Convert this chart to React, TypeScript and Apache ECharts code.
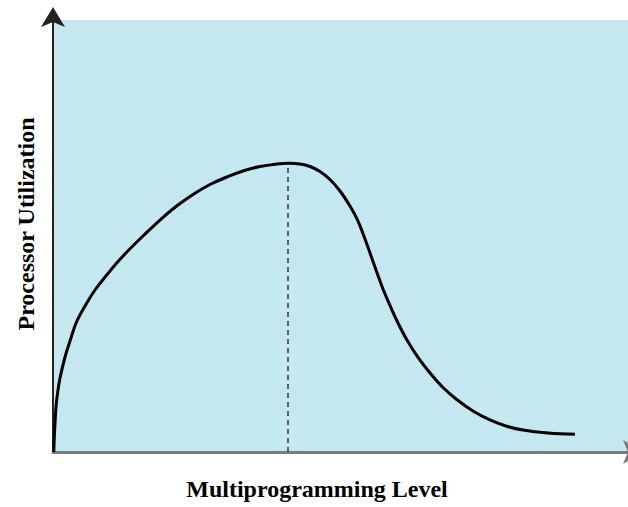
import React, { useEffect, useRef } from "react";
import * as echarts from "echarts";

// Multiprogramming level (relative units, 0-100)
const levels = [0.14, 0.24, 0.4, 0.57, 0.8, 1.22, 2.09, 2.96, 4.12, 5.57, 7.3, 9.34, 11.08, 13.1, 15.65, 18.61, 21.51, 24.35, 27.3, 30.26, 33.04, 36.0, 38.9, 40.87, 42.96, 44.7, 46.43, 48.17, 49.91, 51.65, 52.87, 53.97, 55.13, 56.3, 57.39, 58.61, 60.0, 61.51, 63.48, 65.57, 67.83, 70.21, 73.04, 76.0, 78.78, 81.74, 86.09, 90.78];
// Processor utilization (relative units, 0-100)
const utilization = [0.0, 3.7, 7.87, 11.11, 13.66, 17.13, 21.99, 25.69, 30.21, 33.8, 37.5, 40.97, 43.75, 46.64, 50.0, 53.7, 56.94, 59.61, 61.92, 63.66, 65.05, 66.09, 66.67, 66.85, 66.67, 66.09, 64.93, 63.08, 60.42, 56.94, 53.94, 50.35, 46.06, 41.67, 37.73, 33.91, 29.86, 26.04, 21.88, 18.29, 14.93, 12.15, 9.49, 7.41, 6.02, 5.09, 4.4, 4.1];
// Peak marker
const peakLevel = [40.87, 40.87];
const peakUtil = [0, 66.85];

const xTitle = "Multiprogramming Level";
const yTitle = "Processor Utilization";

export default function App() {
  const ref = useRef<HTMLDivElement>(null);
  useEffect(() => {
    document.body.style.margin = "0";
    if (!ref.current) return;
    const chart = echarts.init(ref.current, null, { renderer: "svg" });
    const font = 'bold 24px "Liberation Serif", "DejaVu Serif", serif';
    chart.setOption({
      animation: false,
      backgroundColor: "#ffffff",
      grid: {
        left: 53,
        right: 0,
        top: 20,
        bottom: 55,
        show: true,
        backgroundColor: "#C4E7F0",
        borderWidth: 0,
      },
      xAxis: {
        type: "value",
        min: 0,
        max: 100,
        axisLine: {
          show: true,
          symbol: ["none", "arrow"],
          symbolSize: [18, 20],
          symbolOffset: [0, 15],
          lineStyle: { color: "#7a7a7a", width: 3 },
        },
        axisTick: { show: false },
        axisLabel: { show: false },
        splitLine: { show: false },
      },
      yAxis: {
        type: "value",
        min: 0,
        max: 100,
        axisLine: {
          show: true,
          symbol: ["none", "arrow"],
          symbolSize: [18, 20],
          symbolOffset: [0, 13],
          lineStyle: { color: "#222222", width: 2 },
        },
        axisTick: { show: false },
        axisLabel: { show: false },
        splitLine: { show: false },
      },
      series: [
        {
          type: "line",
          data: peakLevel.map((x, i) => [x, peakUtil[i]]),
          showSymbol: false,
          lineStyle: { color: "#333333", width: 1.5, type: [5, 4] },
          z: 2,
        },
        {
          type: "line",
          data: levels.map((x, i) => [x, utilization[i]]),
          smooth: 0.4,
          showSymbol: false,
          lineStyle: { color: "#000000", width: 3 },
          z: 3,
        },
      ],
      graphic: [
        {
          type: "text",
          x: 317,
          y: 489,
          style: {
            text: xTitle,
            font,
            fill: "#000",
            textAlign: "center",
            textVerticalAlign: "middle",
          },
        },
        {
          type: "text",
          x: 26,
          y: 224,
          rotation: Math.PI / 2,
          style: {
            text: yTitle,
            font,
            fill: "#000",
            textAlign: "center",
            textVerticalAlign: "middle",
          },
        },
      ],
    });
    return () => chart.dispose();
  }, []);
  return <div ref={ref} style={{ width: 628, height: 507 }} />;
}
